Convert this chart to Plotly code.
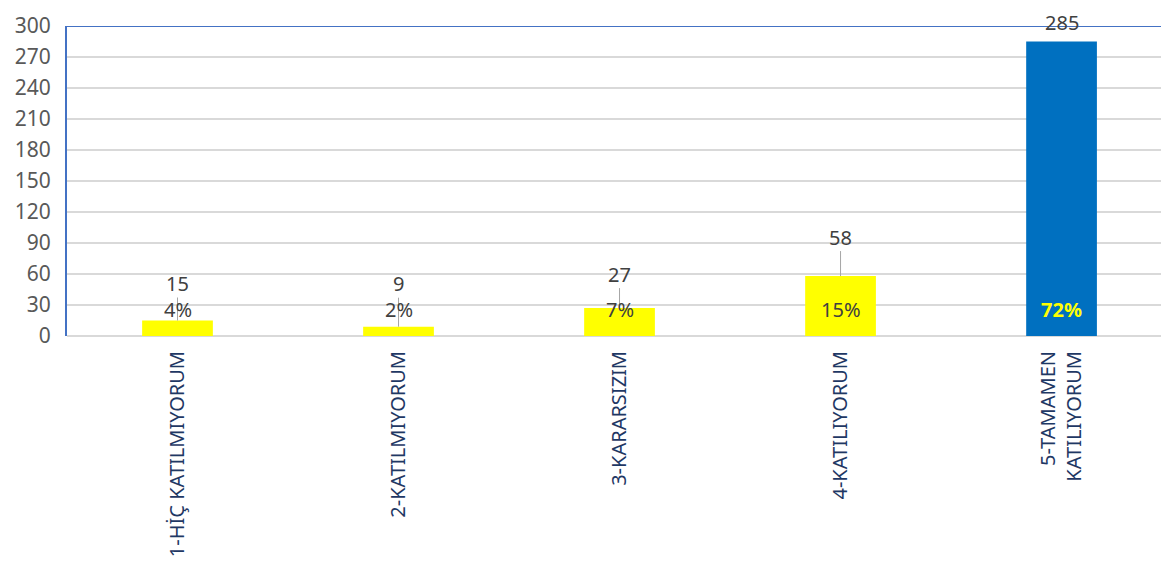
import plotly.graph_objects as go

categories = ['1-HİÇ KATILMIYORUM', '2-KATILMIYORUM', '3-KARARSIZIM',
              '4-KATILIYORUM', '5-TAMAMEN<br>KATILIYORUM']
counts = [15, 9, 27, 58, 285]
percents = ['4%', '2%', '7%', '15%', '72%']
y_ticks = list(range(0, 301, 30))

bar_colors = ['#FFFF00', '#FFFF00', '#FFFF00', '#FFFF00', '#0070C0']
# pixel offsets of the count labels above each bar (as placed in the original)
label_offsets = [-37, -43, -34, -39, -19]
font_name = 'Noto Sans'

fig = go.Figure()
fig.add_trace(go.Bar(
    x=categories,
    y=counts,
    marker_color=bar_colors,
    marker_line_width=0,
    width=0.32,
    hoverinfo='x+y',
))

annotations = []
for i, (cat, val, pct) in enumerate(zip(categories, counts, percents)):
    last = i == len(categories) - 1
    # count label with leader line
    annotations.append(dict(
        x=cat, y=val, xref='x', yref='y',
        text=str(val), showarrow=True, arrowhead=0, arrowwidth=1,
        arrowcolor='rgba(0,0,0,0)' if last else '#A6A6A6',
        ax=0, ay=label_offsets[i], borderpad=0,
        font=dict(family=font_name, size=20, color='#404040'),
    ))
    # percentage label near the base
    annotations.append(dict(
        x=cat, y=0, xref='x', yref='y', yshift=27,
        text=f'<b>{pct}</b>' if last else pct, showarrow=False,
        font=dict(family=font_name, size=20,
                  color='#FFFF00' if last else '#404040'),
    ))

# the page body has an 8px margin, so the figure is sized to fit inside it
fig.update_layout(
    width=1153, height=552,
    margin=dict(l=59, r=0, t=18, b=224),
    plot_bgcolor='white', paper_bgcolor='white',
    showlegend=False,
    annotations=annotations,
    font=dict(family=font_name),
    shapes=[dict(type='line', xref='paper', yref='y', x0=0, x1=1, y0=300, y1=300,
                 line=dict(color='#4472C4', width=2), layer='above')],
)

fig.update_yaxes(
    range=[0, 300], tickvals=y_ticks,
    showgrid=True, gridcolor='#D9D9D9', gridwidth=1.5,
    zeroline=True, zerolinecolor='#D9D9D9', zerolinewidth=1.5,
    showline=True, linecolor='#4472C4', linewidth=2,
    tickfont=dict(family=font_name, size=21, color='#595959'),
    ticklabelstandoff=10,
)
fig.update_xaxes(
    range=[-0.5, 4.45],
    tickangle=-90,
    tickfont=dict(family=font_name, size=20, color='#1F3864'),
    ticklabelstandoff=10,
    showline=False, showgrid=False,
)

fig.write_html("out.html")
